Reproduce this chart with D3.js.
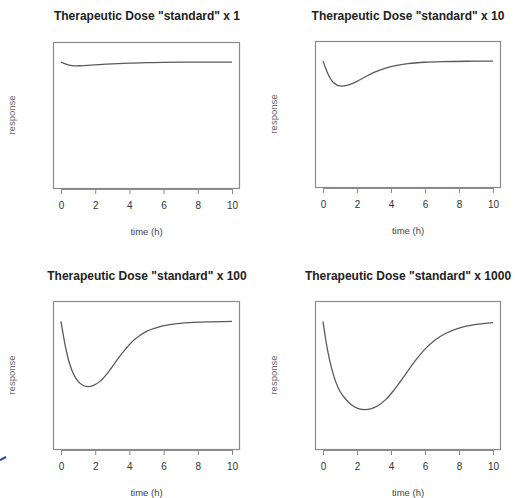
<!DOCTYPE html>
<html><head><meta charset="utf-8">
<script src="https://cdn.jsdelivr.net/npm/d3@7"></script>
<style>body{margin:0;background:#fff}svg{display:block}</style>
</head><body>
<svg id="c" width="515" height="498"></svg>
<script>
const titles = ['Therapeutic Dose "standard" x 1','Therapeutic Dose "standard" x 10','Therapeutic Dose "standard" x 100','Therapeutic Dose "standard" x 1000'];
const xTicks = [0,2,4,6,8,10];
const xLabel = "time (h)";
const yLabel = "response";
const t1 = [0,0.25,0.5,0.8,1.2,2,3,4,5,6,8,10];
const r1 = [100,98.7,97.6,97.1,97.2,97.8,98.6,99.2,99.6,99.8,100,100];
const t2 = [0,0.15,0.3,0.45,0.6,0.8,1.0,1.25,1.6,2.0,2.5,3.0,3.6,4.2,5.0,6.0,7.0,8.5,10];
const r2 = [100,94.5,89.6,85.8,83.2,81.2,80.3,80.3,81.6,83.9,87.6,91.0,94.1,96.2,98.0,99.1,99.6,99.9,100];
const t3 = [0,0.15,0.3,0.5,0.75,1.0,1.3,1.6,1.9,2.3,2.8,3.3,3.8,4.3,5.0,5.8,6.6,7.5,8.5,10];
const r3 = [100,88.0,77.6,67.0,58.3,53.0,49.8,48.9,49.9,53.2,60.8,70.3,78.7,85.8,92.2,96.0,97.9,99.0,99.6,100];
const t4 = [0,0.15,0.3,0.5,0.75,1.0,1.3,1.6,2.0,2.4,2.8,3.2,3.7,4.2,4.8,5.4,6.0,6.6,7.2,8.0,9.0,10];
const r4 = [100,86.6,75.4,63.6,52.6,45.1,39.6,35.5,32.0,30.9,31.5,33.7,38.9,46.6,57.5,68.7,78.3,85.4,90.5,94.8,97.6,99.1];
const times = [t1,t2,t3,t4];
const resp = [r1,r2,r3,r4];

const svg = d3.select("#c");
const panels = [
  {l:53,r:239,t:42,b:188,tx:147,ty:20},
  {l:315,r:500,t:41,b:187,tx:408,ty:20},
  {l:53,r:239,t:301,b:449,tx:147,ty:280},
  {l:315,r:500,t:301,b:449,tx:408,ty:280}
];
const font = "'Liberation Sans', Arial, sans-serif";
panels.forEach((p,i)=>{
  const g = svg.append("g");
  const x0 = p.l+8, x1 = p.r-7;
  const x = d3.scaleLinear().domain([0,10]).range([x0,x1]);
  const y = d3.scaleLinear().domain([0,116]).range([p.b,p.t]);
  g.append("rect").attr("x",p.l+0.5).attr("y",p.t+0.5).attr("width",p.r-p.l).attr("height",p.b-p.t)
    .attr("fill","none").attr("stroke","#8a8a8a").attr("stroke-width",1.2);
  const ax = g.append("g").attr("transform",`translate(0,${p.b+1})`)
    .call(d3.axisBottom(x).tickValues(xTicks).tickSize(5).tickPadding(8).tickFormat(d3.format("d")));
  ax.select(".domain").attr("stroke","#8a8a8a");
  ax.selectAll(".tick line").attr("stroke","#8a8a8a");
  ax.selectAll("text").attr("font-family",font).attr("font-size",10).attr("fill","#333");
  const data = times[i].map((t,k)=>[t,resp[i][k]]);
  g.append("path").datum(data)
    .attr("d",d3.line().x(d=>x(d[0])).y(d=>y(d[1])).curve(d3.curveCatmullRom.alpha(0.5)))
    .attr("fill","none").attr("stroke","#5a5a5a").attr("stroke-width",1.3);
  g.append("text").attr("x",p.tx).attr("y",p.ty).attr("text-anchor","middle")
    .attr("font-family",font).attr("font-weight","bold").attr("font-size",12).attr("fill","#222").text(titles[i]);
  g.append("text").attr("x",(x0+x1)/2).attr("y",p.b+47).attr("text-anchor","middle")
    .attr("font-family",font).attr("font-size",9.5).attr("fill","#444").text(xLabel);
  const ly = (p.t+p.b)/2;
  const lx = p.l-38;
  g.append("text").attr("transform",`translate(${lx},${ly}) rotate(-90)`).attr("text-anchor","middle")
    .attr("font-family",font).attr("font-size",9.5).attr("fill","#666").text(yLabel);
});
svg.append("path").attr("d","M0,460 L6,457").attr("stroke","#2a4a8a").attr("stroke-width",2);
</script>
</body></html>
